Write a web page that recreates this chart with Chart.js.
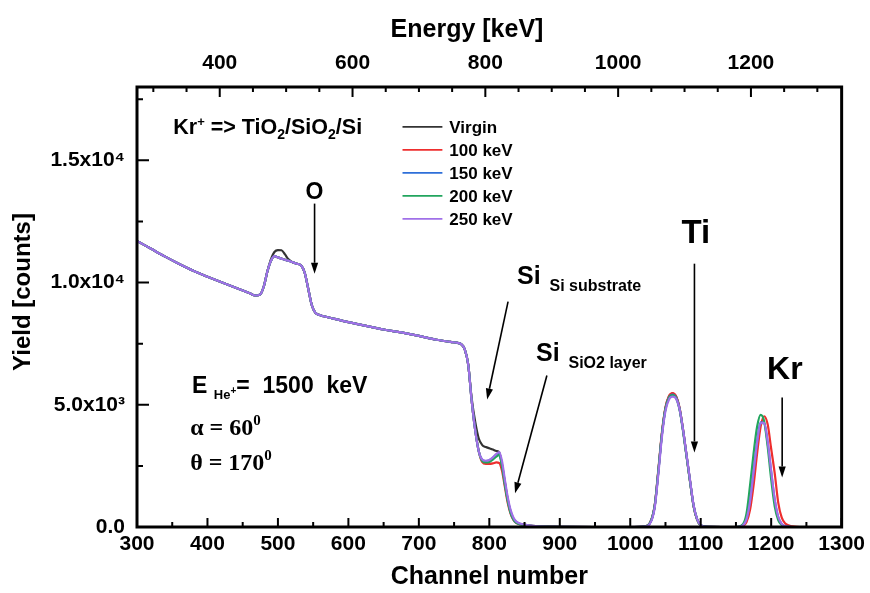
<!DOCTYPE html>
<html><head><meta charset="utf-8">
<script src="https://cdn.jsdelivr.net/npm/chart.js@4.4.1/dist/chart.umd.min.js"></script>
<style>html,body{margin:0;padding:0;background:#fff;}canvas{display:block;}</style>
</head><body>
<canvas id="c" width="870" height="593" style="width:870px;height:593px"></canvas>
<script>
// ---------------- data ----------------
const channels = [300,320,340,360,380,400,420,440,460,468,475,480,485,490,495,500,505,510,515,520,527,533,538,543,548,553,558,565,575,600,625,650,675,700,725,745,755,760,765,770,775,780,785,790,795,800,805,810,814,818,822,826,830,834,838,845,855,870,900,950,1000,1020,1030,1035,1040,1045,1050,1055,1060,1065,1070,1075,1080,1085,1090,1095,1100,1110,1130,1150,1160,1165,1170,1175,1180,1185,1190,1195,1200,1205,1210,1215,1220,1230,1245,1270,1300];

const yieldVirgin = [11700,11380,11060,10760,10480,10240,10010,9790,9560,9470,9520,9850,10450,10950,11250,11330,11320,11150,10950,10840,10770,10700,10400,9750,9080,8770,8680,8620,8550,8380,8230,8080,7960,7820,7660,7570,7530,7480,7280,6650,5250,4300,3620,
 3350,3270,3220,3170,3110,3050,2550,1850,1150,650,350,200,120,70,30,10,0,
 0,20,290,920,2320,3820,4870,5340,5460,5340,4860,3960,2900,1850,850,300,70,5,0,
 0,0,0,0,0,0,0,0,0,0,0,0,0,0,0,0,0,0];

const yield100 = [11700,11380,11060,10760,10480,10240,10010,9790,9560,9470,9520,9850,10450,10880,11080,11030,10980,10930,10890,10840,10770,10700,10400,9750,9080,8770,8680,8620,8550,8380,8230,8080,7960,7820,7660,7570,7530,7480,7280,6650,5150,3950,3100,
 2650,2580,2580,2600,2640,2620,2300,1650,1000,560,300,170,100,55,25,5,0,
 0,20,300,950,2380,3880,4900,5360,5480,5350,4870,3960,2900,1840,840,290,70,5,0,
 0,40,200,700,1700,3000,4100,4530,4200,3200,2200,1000,380,140,30,0,0,0];

const yield150 = [11700,11380,11060,10760,10480,10240,10010,9790,9560,9470,9520,9850,10450,10880,11080,11030,10980,10930,10890,10840,10770,10700,10400,9750,9080,8770,8680,8620,8550,8380,8230,8080,7960,7820,7660,7570,7530,7480,7280,6650,5150,3950,3100,
 2750,2700,2730,2830,2960,3020,2550,1800,1120,620,330,190,110,60,25,5,0,
 0,20,280,900,2300,3800,4840,5300,5420,5300,4830,3950,2900,1850,860,310,75,5,0,
 0,80,350,1100,2300,3500,4280,4250,3450,2250,1100,400,120,30,0,0,0,0];

const yield200 = [11700,11380,11060,10760,10480,10240,10010,9790,9560,9470,9520,9850,10450,10880,11080,11030,10980,10930,10890,10840,10770,10700,10400,9750,9080,8770,8680,8620,8550,8380,8230,8080,7960,7820,7660,7570,7530,7480,7280,6650,5150,3950,3100,
 2700,2640,2660,2760,2880,2950,2480,1750,1080,600,320,180,100,60,25,5,0,
 0,20,290,930,2340,3820,4840,5290,5400,5280,4800,3900,2860,1820,840,300,70,5,0,
 0,120,550,1700,3000,4100,4590,4330,3300,1950,850,280,80,20,0,0,0,0];

const yield250 = [11700,11380,11060,10760,10480,10240,10010,9790,9560,9470,9520,9850,10450,10880,11080,11030,10980,10930,10890,10840,10770,10700,10400,9750,9080,8770,8680,8620,8550,8380,8230,8080,7960,7820,7660,7570,7530,7480,7280,6650,5150,3950,3100,
 2760,2710,2740,2850,2990,3060,2700,1950,1250,720,400,230,130,70,30,5,0,
 0,15,250,850,2200,3700,4750,5220,5330,5250,4820,3960,2930,1890,880,320,80,5,0,
 0,70,320,1050,2250,3450,4250,4260,3500,2300,1150,430,130,35,0,0,0,0];

const seriesLabels = ['Virgin','100 keV','150 keV','200 keV','250 keV'];
const channelTickLabels = ['300','400','500','600','700','800','900','1000','1100','1200','1300'];
const energyTickLabels = ['400','600','800','1000','1200'];
const yieldTickValues = [0,5000,10000,15000];
const yieldTickLabels = ['0.0','5.0x10\u00B3','1.0x10\u2074','1.5x10\u2074'];
const axisTitles = {x: 'Channel number', x2: 'Energy [keV]', y: 'Yield [counts]'};

// ---------------- styles ----------------
const seriesData = [yieldVirgin, yield100, yield150, yield200, yield250];
const seriesColors = ['#333333','#ee2e2e','#2e6fd9','#22a55e','#a070e8'];
const SANS = "'Liberation Sans', Arial, Helvetica, sans-serif";
const SERIF = "'Liberation Serif', 'Times New Roman', serif";
Chart.defaults.font.family = SANS;
Chart.defaults.color = '#000';

const datasets = seriesData.map((arr, i) => ({
  label: seriesLabels[i],
  data: channels.map((c, j) => ({x: c, y: arr[j]})),
  borderColor: seriesColors[i],
  backgroundColor: seriesColors[i],
  borderWidth: 2.2,
  pointRadius: 0,
  fill: false,
  cubicInterpolationMode: 'monotone',
  order: seriesData.length - 1 - i,
  xAxisID: 'x', yAxisID: 'y'
}));

function drawParts(ctx, x, y, parts, align) {
  let w = 0;
  parts.forEach(p => { ctx.font = 'bold ' + p[1] + 'px ' + (p[3] || SANS); w += ctx.measureText(p[0]).width; });
  let cx = align === 'center' ? x - w / 2 : x;
  ctx.textAlign = 'left'; ctx.textBaseline = 'alphabetic';
  parts.forEach(p => { ctx.font = 'bold ' + p[1] + 'px ' + (p[3] || SANS); ctx.fillText(p[0], cx, y + (p[2] || 0)); cx += ctx.measureText(p[0]).width; });
}
function arrow(ctx, x1, y1, x2, y2) {
  const a = Math.atan2(y2 - y1, x2 - x1), L = 11, W = 3.6;
  const bx = x2 - L * Math.cos(a), by = y2 - L * Math.sin(a);
  ctx.lineWidth = 1.6;
  ctx.beginPath(); ctx.moveTo(x1, y1); ctx.lineTo(bx, by); ctx.stroke();
  ctx.beginPath(); ctx.moveTo(x2, y2);
  ctx.lineTo(bx - W * Math.sin(a), by + W * Math.cos(a));
  ctx.lineTo(bx + W * Math.sin(a), by - W * Math.cos(a));
  ctx.closePath(); ctx.fill();
}

// annotation anchors in data units (channel, yield)
const textNotes = [
  {ch: 351.5, v: 16095, align: 'left', parts: [['Kr',21.5,0],['+',13,-8],[' => TiO',21.5,0],['2',14,5],['/SiO',21.5,0],['2',14,5],['/Si',21.5,0]]},
  {ch: 552, v: 13410, align: 'center', parts: [['O',23,0]]},
  {ch: 839.3, v: 9955, align: 'left', parts: [['Si',25,0],['  Si substrate',16,7]]},
  {ch: 866.2, v: 6810, align: 'left', parts: [['Si',25,0],['  SiO2 layer',16,7]]},
  {ch: 1093.2, v: 11630, align: 'center', parts: [['Ti',33,0]]},
  {ch: 1219.4, v: 6074, align: 'center', parts: [['Kr',32,0]]},
  {ch: 378.2, v: 5462, align: 'left', parts: [['E ',23,0],['He',13,6],['+',10,1],['=  1500  keV',23,0]]},
  {ch: 375.4, v: 3746, align: 'left', parts: [['\u03B1 = 60',24,0,SERIF],['0',15,-10,SERIF]]},
  {ch: 375.4, v: 2316, align: 'left', parts: [['\u03B8 = 170',24,0,SERIF],['0',15,-10,SERIF]]}
];
const arrowNotes = [
  [552, 13230, 552, 10360],
  [826.6, 9220, 796.9, 5217],
  [881.7, 6197, 836.5, 1377],
  [1091.1, 10772, 1091.1, 3051],
  [1215.6, 5298, 1215.6, 2030]
];
const legendAnchor = {ch1: 676.8, ch2: 733.4, chText: 743.2, v: 16369, rowGap: 23};

const framePlugin = {
  id: 'frame',
  afterDraw(chart) {
    const {ctx, chartArea: a, scales} = chart;
    const X = v => scales.x.getPixelForValue(v), Y = v => scales.y.getPixelForValue(v);
    ctx.save();
    ctx.strokeStyle = '#000'; ctx.fillStyle = '#000';
    // ticks (inward)
    ctx.lineWidth = 2;
    ctx.beginPath();
    scales.x.ticks.forEach(t => { const p = scales.x.getPixelForValue(t.value); const L = t.label !== '' ? 9 : 5; ctx.moveTo(p, a.bottom); ctx.lineTo(p, a.bottom - L); });
    scales.x2.ticks.forEach(t => { const p = scales.x2.getPixelForValue(t.value); const L = t.label !== '' ? 10 : 5; ctx.moveTo(p, a.top); ctx.lineTo(p, a.top + L); });
    scales.y.ticks.forEach(t => { const p = scales.y.getPixelForValue(t.value); const L = t.label !== '' ? 12 : 6; ctx.moveTo(a.left, p); ctx.lineTo(a.left + L, p); });
    ctx.stroke();
    // frame
    ctx.lineWidth = 3;
    ctx.strokeRect(a.left, a.top, a.right - a.left, a.bottom - a.top);
    // axis titles (top and left are offset from centre in the original)
    ctx.fillStyle = '#000';
    ctx.font = 'bold 25px ' + SANS; ctx.textAlign = 'center'; ctx.textBaseline = 'middle';
    ctx.fillText(axisTitles.x2, a.left + 330, 30);
    ctx.save(); ctx.translate(23, a.top + 205); ctx.rotate(-Math.PI / 2);
    ctx.font = 'bold 24px ' + SANS; ctx.fillText(axisTitles.y, 0, 0); ctx.restore();
    // arrows
    arrowNotes.forEach(r => arrow(ctx, X(r[0]), Y(r[1]), X(r[2]), Y(r[3])));
    // texts
    textNotes.forEach(n => drawParts(ctx, X(n.ch), Y(n.v), n.parts, n.align));
    // legend
    const y0 = Y(legendAnchor.v);
    chart.data.datasets.forEach((d, i) => {
      const yy = y0 + i * legendAnchor.rowGap;
      ctx.strokeStyle = d.borderColor; ctx.lineWidth = 1.6;
      ctx.beginPath(); ctx.moveTo(X(legendAnchor.ch1), yy); ctx.lineTo(X(legendAnchor.ch2), yy); ctx.stroke();
      ctx.fillStyle = '#000'; ctx.font = 'bold 17px ' + SANS; ctx.textAlign = 'left'; ctx.textBaseline = 'middle';
      ctx.fillText(d.label, X(legendAnchor.chText), yy + 1);
    });
    ctx.restore();
  }
};

function stepTicks(from, to, step) { return s => { s.ticks = []; for (let v = from; v <= to + 1e-9; v += step) s.ticks.push({value: v}); }; }

const tickFont = {size: 21, weight: 'bold', family: SANS};
new Chart(document.getElementById('c'), {
  type: 'line',
  data: {datasets},
  options: {
    responsive: false, animation: false, devicePixelRatio: 1,
    layout: {padding: {left: 0, right: 26, top: 0, bottom: 0}},
    plugins: {legend: {display: false}, tooltip: {enabled: false}},
    scales: {
      x: {
        type: 'linear', position: 'bottom', min: 300, max: 1300, bounds: 'data',
        afterBuildTicks: stepTicks(300, 1300, 50),
        afterFit: s => { s.height = 66; },
        grid: {display: false, drawTicks: false}, border: {display: false},
        ticks: {autoSkip: false, maxRotation: 0, padding: 5, font: tickFont, color: '#000',
          callback: v => channelTickLabels.includes(String(v)) ? String(v) : ''},
        title: {display: true, text: axisTitles.x, color: '#000', font: {size: 25, weight: 'bold', family: SANS}, padding: {top: 0, bottom: 1}}
      },
      x2: {
        type: 'linear', position: 'top', min: 275.4, max: 1336.6, bounds: 'data',
        afterBuildTicks: stepTicks(300, 1300, 50),
        afterFit: s => { s.height = 87; },
        grid: {display: false, drawTicks: false}, border: {display: false},
        ticks: {autoSkip: false, maxRotation: 0, padding: 11, font: tickFont, color: '#000',
          callback: v => energyTickLabels.includes(String(v)) ? String(v) : ''},
        title: {display: false, text: axisTitles.x2}
      },
      y: {
        type: 'linear', position: 'left', min: 0, max: 18000, bounds: 'data',
        afterBuildTicks: stepTicks(0, 17500, 2500),
        afterFit: s => { s.width = 137; },
        grid: {display: false, drawTicks: false}, border: {display: false},
        ticks: {autoSkip: false, padding: 12, font: tickFont, color: '#000',
          callback: v => { const k = yieldTickValues.indexOf(Math.round(v)); return k >= 0 ? yieldTickLabels[k] : ''; }},
        title: {display: false, text: axisTitles.y}
      }
    }
  },
  plugins: [framePlugin]
});
</script>
</body></html>
